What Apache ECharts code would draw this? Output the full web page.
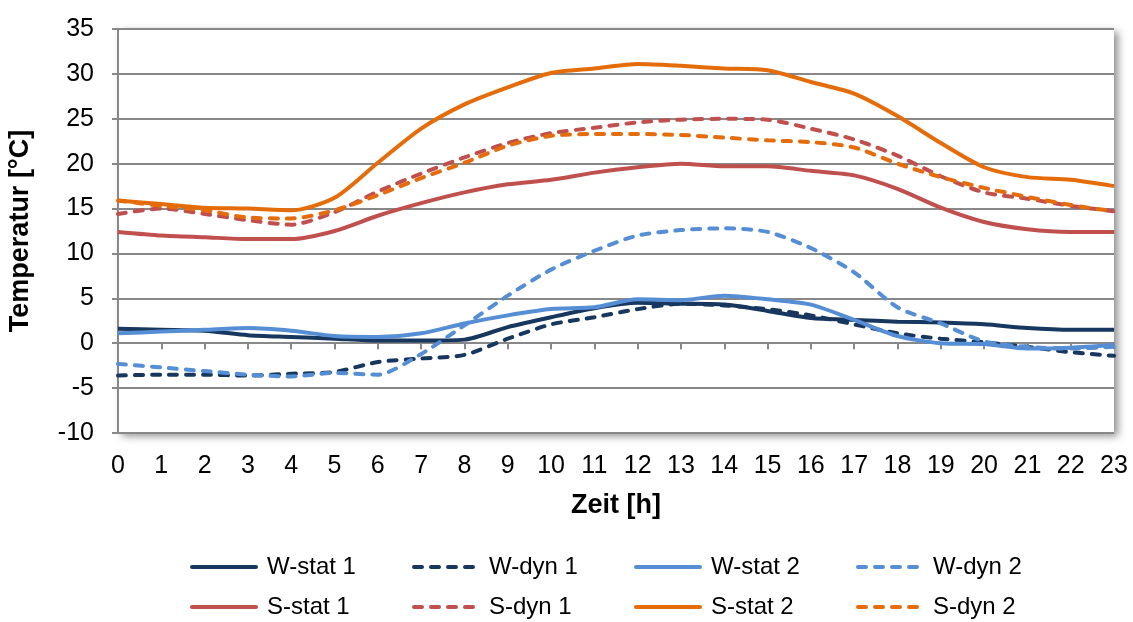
<!DOCTYPE html>
<html>
<head>
<meta charset="utf-8">
<script src="https://cdn.jsdelivr.net/npm/echarts@6/dist/echarts.min.js"></script>
<style>
  html, body { margin: 0; padding: 0; background: #ffffff; }
  #chart { width: 1133px; height: 622px; }
</style>
</head>
<body>
<div id="chart"></div>
<script>
// Hourly temperature profiles (°C), hours 0–23
const hours = ['0','1','2','3','4','5','6','7','8','9','10','11','12','13','14','15','16','17','18','19','20','21','22','23'];

const wStat1 = [1.6, 1.5, 1.4, 0.9, 0.7, 0.5, 0.3, 0.3, 0.4, 1.8, 2.9, 3.9, 4.5, 4.4, 4.3, 3.6, 2.8, 2.6, 2.4, 2.3, 2.1, 1.7, 1.5, 1.5];
const wDyn1  = [-3.6, -3.5, -3.5, -3.6, -3.4, -3.2, -2.1, -1.7, -1.3, 0.5, 2.1, 2.9, 3.8, 4.4, 4.2, 3.8, 3.1, 2.1, 1.1, 0.5, 0.1, -0.4, -1.0, -1.4];
const wStat2 = [1.1, 1.3, 1.5, 1.7, 1.4, 0.8, 0.7, 1.1, 2.2, 3.1, 3.8, 4.0, 4.9, 4.8, 5.3, 4.9, 4.3, 2.6, 0.8, 0.0, -0.1, -0.6, -0.5, -0.2];
const wDyn2  = [-2.3, -2.7, -3.1, -3.5, -3.7, -3.3, -3.5, -1.2, 2.0, 5.3, 8.2, 10.3, 12.0, 12.6, 12.8, 12.4, 10.6, 7.9, 4.0, 2.2, 0.2, -0.4, -0.6, -0.4];
const sStat1 = [12.4, 12.0, 11.8, 11.6, 11.6, 12.5, 14.2, 15.6, 16.8, 17.7, 18.2, 19.0, 19.6, 20.0, 19.7, 19.7, 19.2, 18.7, 17.2, 15.1, 13.5, 12.7, 12.4, 12.4];
const sDyn1  = [14.4, 15.0, 14.4, 13.7, 13.2, 14.6, 16.9, 18.9, 20.7, 22.3, 23.4, 24.0, 24.6, 24.9, 25.0, 24.9, 23.9, 22.7, 20.9, 18.6, 16.8, 16.1, 15.3, 14.7];
const sStat2 = [15.9, 15.5, 15.1, 15.0, 14.8, 16.2, 20.1, 23.9, 26.6, 28.5, 30.1, 30.6, 31.1, 30.9, 30.6, 30.4, 29.1, 27.8, 25.3, 22.3, 19.6, 18.5, 18.2, 17.5];
const sDyn2  = [15.9, 15.3, 14.8, 14.0, 13.9, 14.8, 16.5, 18.4, 20.1, 22.0, 23.1, 23.3, 23.3, 23.2, 22.9, 22.6, 22.4, 21.8, 20.0, 18.5, 17.3, 16.3, 15.4, 14.7];

const seriesDefs = [
  { name: 'W-stat 1', data: wStat1, color: '#17375E', dashed: false },
  { name: 'W-dyn 1',  data: wDyn1,  color: '#17375E', dashed: true  },
  { name: 'W-stat 2', data: wStat2, color: '#558ED5', dashed: false },
  { name: 'W-dyn 2',  data: wDyn2,  color: '#558ED5', dashed: true  },
  { name: 'S-stat 1', data: sStat1, color: '#C0504D', dashed: false },
  { name: 'S-dyn 1',  data: sDyn1,  color: '#C0504D', dashed: true  },
  { name: 'S-stat 2', data: sStat2, color: '#E46C0A', dashed: false },
  { name: 'S-dyn 2',  data: sDyn2,  color: '#E46C0A', dashed: true  }
];

const FONT = '"Liberation Sans", Arial, sans-serif';
const GREY = '#888888';

// Legend laid out in a 4 x 2 grid, one legend component per entry
const legendCols = [190, 412, 634, 856];
const legendRows = [555, 595];
const legends = seriesDefs.map((s, i) => ({
  data: [s.name],
  left: legendCols[i % 4],
  top: legendRows[Math.floor(i / 4)],
  padding: 0,
  itemWidth: 64,
  itemHeight: 24,
  selectedMode: false,
  itemStyle: { color: 'rgba(0,0,0,0)', borderWidth: 0, opacity: 0 },
  lineStyle: { width: 4, cap: 'round' },
  textStyle: { fontFamily: FONT, fontSize: 24, color: '#000', padding: [0, 0, 0, 6] }
}));

const chart = echarts.init(document.getElementById('chart'), null, { renderer: 'canvas' });
chart.setOption({
  animation: false,
  backgroundColor: '#ffffff',
  grid: {
    left: 118, right: 19, top: 29, bottom: 189,
    outerBoundsMode: 'none',
    containLabel: false,
    show: true,
    backgroundColor: '#ffffff',
    borderWidth: 0,
    shadowBlur: 8,
    shadowColor: 'rgba(0,0,0,0.45)',
    shadowOffsetX: 4,
    shadowOffsetY: 3
  },
  legend: legends,
  xAxis: {
    type: 'category',
    data: hours,
    boundaryGap: false,
    name: 'Zeit [h]',
    nameLocation: 'middle',
    nameGap: 59,
    nameTextStyle: { fontFamily: FONT, fontSize: 27, fontWeight: 'bold', color: '#000' },
    axisLine: { lineStyle: { color: GREY, width: 2 } },
    axisTick: { show: true, length: 6, lineStyle: { color: GREY, width: 2 } },
    axisLabel: { fontFamily: FONT, fontSize: 25, color: '#000', margin: 21, interval: 0 },
    splitLine: { show: false }
  },
  yAxis: {
    type: 'value',
    min: -10, max: 35, interval: 5,
    name: 'Temperatur [°C]',
    nameLocation: 'middle',
    nameGap: 84,
    nameRotate: 90,
    nameTextStyle: { fontFamily: FONT, fontSize: 27, fontWeight: 'bold', color: '#000' },
    axisLine: { show: true, lineStyle: { color: GREY, width: 2 } },
    axisTick: { show: true, length: 6, lineStyle: { color: GREY, width: 2 } },
    axisLabel: { fontFamily: FONT, fontSize: 25, color: '#000', margin: 24 },
    splitLine: { show: true, lineStyle: { color: GREY, width: 2 } }
  },
  series: seriesDefs.map(s => ({
    name: s.name,
    type: 'line',
    data: s.data,
    symbol: 'none',
    smooth: 0.25,
    color: s.color,
    lineStyle: {
      color: s.color,
      width: 4,
      type: s.dashed ? [8, 9] : 'solid',
      cap: s.dashed ? 'round' : 'butt'
    }
  }))
});
</script>
</body>
</html>
